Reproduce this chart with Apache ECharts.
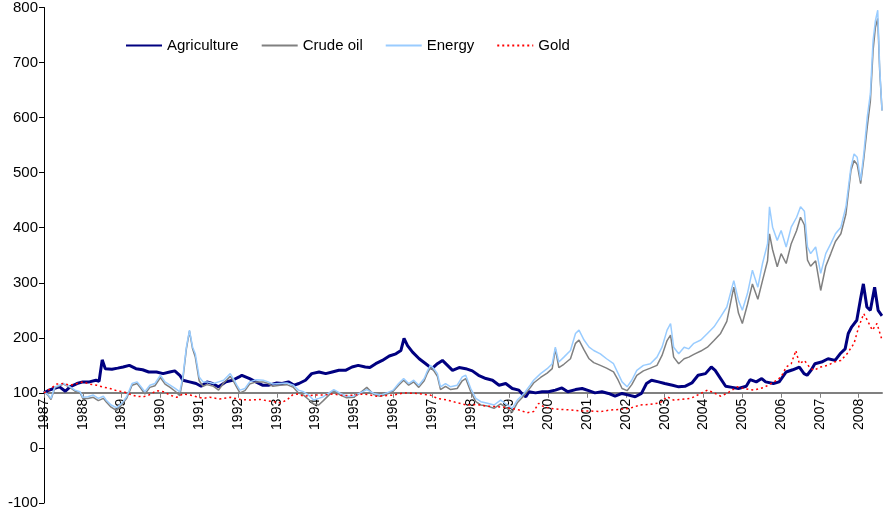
<!DOCTYPE html>
<html><head><meta charset="utf-8">
<script src="https://cdn.jsdelivr.net/npm/echarts@6/dist/echarts.min.js"></script>
<style>html,body{margin:0;padding:0;background:#fff}#c{width:883px;height:520px}</style>
</head><body><div id="c"></div>
<script>
const seriesNames = ['Agriculture', 'Crude oil', 'Energy', 'Gold'];
const yMin = -100, yMax = 800, yStep = 100;
const xFirstYear = 1987, xLastYear = 2008.6, baseLevel = 100;

const agriYears = [1987.00,1987.10,1987.25,1987.40,1987.55,1987.67,1987.85,1988.00,1988.17,1988.34,1988.42,1988.50,1988.58,1988.75,1988.90,1989.04,1989.20,1989.37,1989.54,1989.70,1989.90,1990.07,1990.24,1990.37,1990.50,1990.58,1990.75,1990.92,1991.05,1991.20,1991.34,1991.50,1991.69,1991.86,1992.03,1992.10,1992.30,1992.46,1992.63,1992.80,1993.00,1993.14,1993.30,1993.45,1993.57,1993.74,1993.90,1994.09,1994.26,1994.43,1994.60,1994.77,1994.94,1995.10,1995.28,1995.40,1995.55,1995.72,1995.90,1996.07,1996.20,1996.28,1996.37,1996.50,1996.67,1996.84,1997.00,1997.14,1997.27,1997.40,1997.53,1997.70,1997.87,1998.04,1998.20,1998.39,1998.56,1998.73,1998.90,1999.07,1999.24,1999.35,1999.42,1999.50,1999.67,1999.84,2000.00,2000.18,2000.35,2000.50,2000.70,2000.87,2001.04,2001.20,2001.38,2001.55,2001.72,2001.90,2002.07,2002.24,2002.40,2002.53,2002.66,2002.84,2003.00,2003.20,2003.36,2003.52,2003.70,2003.86,2004.05,2004.20,2004.30,2004.44,2004.57,2004.74,2004.90,2005.10,2005.20,2005.36,2005.50,2005.60,2005.80,2005.95,2006.13,2006.30,2006.47,2006.59,2006.67,2006.78,2006.87,2007.04,2007.21,2007.39,2007.52,2007.65,2007.73,2007.82,2007.95,2008.04,2008.12,2008.21,2008.30,2008.41,2008.50,2008.60];
const agriValues = [100,104,108,111,103,111,117,120,120,123,121,160,144,143,145,147,150,144,142,138,138,135,138,140,132,123,120,117,112,120,117,111,120,123,129,132,126,120,114,114,118,117,120,114,117,123,135,138,135,138,141,141,147,150,147,146,153,159,167,171,177,199,186,174,162,153,144,153,159,150,141,146,144,140,132,126,123,114,117,108,105,96,93,102,100,102,102,105,109,102,106,108,104,100,102,99,94,99,96,93,99,117,123,120,117,114,111,112,118,132,135,147,141,126,112,110,108,112,124,120,126,120,117,120,138,142,147,135,132,142,153,156,162,159,171,180,208,220,232,268,298,256,250,292,250,240];

const energyYears = [1987.00,1987.10,1987.18,1987.28,1987.40,1987.50,1987.67,1987.80,1987.93,1988.00,1988.13,1988.27,1988.40,1988.53,1988.60,1988.73,1988.87,1989.00,1989.13,1989.27,1989.40,1989.50,1989.60,1989.73,1989.86,1990.00,1990.12,1990.25,1990.38,1990.50,1990.58,1990.67,1990.75,1990.83,1990.90,1991.00,1991.10,1991.20,1991.37,1991.50,1991.63,1991.80,1991.88,1991.97,1992.05,1992.18,1992.30,1992.47,1992.65,1992.78,1992.90,1993.08,1993.26,1993.43,1993.56,1993.69,1993.82,1993.95,1994.08,1994.20,1994.33,1994.47,1994.64,1994.80,1994.98,1995.15,1995.32,1995.50,1995.67,1995.84,1996.00,1996.14,1996.27,1996.40,1996.53,1996.66,1996.80,1996.87,1996.96,1997.05,1997.14,1997.22,1997.35,1997.48,1997.65,1997.78,1997.87,1998.00,1998.13,1998.26,1998.43,1998.60,1998.77,1998.94,1999.07,1999.20,1999.37,1999.54,1999.62,1999.80,1999.97,2000.10,2000.18,2000.27,2000.40,2000.57,2000.70,2000.79,2000.92,2001.05,2001.17,2001.34,2001.50,2001.68,2001.80,2001.90,2002.03,2002.15,2002.28,2002.45,2002.63,2002.80,2002.93,2003.06,2003.15,2003.23,2003.36,2003.50,2003.62,2003.75,2003.93,2004.10,2004.27,2004.44,2004.60,2004.78,2004.90,2005.00,2005.13,2005.26,2005.40,2005.52,2005.65,2005.70,2005.78,2005.90,2006.00,2006.13,2006.26,2006.40,2006.50,2006.60,2006.68,2006.76,2006.89,2007.02,2007.15,2007.28,2007.40,2007.54,2007.67,2007.80,2007.88,2007.96,2008.05,2008.13,2008.22,2008.30,2008.37,2008.43,2008.49,2008.54,2008.60];
const energyValues = [102,97,90,111,114,117,111,105,102,92,93,96,90,94,87,78,73,81,93,117,120,111,102,114,117,132,120,114,108,102,129,183,214,183,171,129,120,120,117,120,123,135,126,114,105,108,120,124,123,120,116,117,118,114,105,102,96,87,90,93,99,106,99,94,94,100,106,99,96,100,105,117,126,117,123,114,126,138,150,144,135,111,117,111,114,129,132,108,90,84,81,78,87,78,72,87,99,115,123,135,144,153,183,156,165,177,208,214,196,183,177,171,162,153,135,120,111,123,141,150,153,165,183,214,226,183,171,183,180,190,196,208,220,238,256,304,268,250,280,323,292,335,371,438,401,377,395,365,401,419,438,430,365,353,365,317,353,371,389,401,438,510,534,528,486,534,601,643,740,776,795,692,613];

const oilYears = energyYears;
const oilValues = [102,96,88,109,113,116,110,103,100,90,90,92,86,90,84,74,68,78,90,114,117,108,98,110,113,128,116,110,103,95,125,180,212,180,165,122,112,115,112,105,118,130,122,110,100,104,116,120,120,117,112,114,115,110,100,96,88,80,78,86,95,104,96,91,92,100,110,97,94,98,103,114,123,114,120,110,122,134,146,140,130,106,112,106,108,122,126,102,84,78,76,72,80,72,65,82,95,110,118,128,136,144,180,146,152,162,190,196,178,162,155,150,145,138,123,108,104,115,132,140,145,150,168,195,205,165,153,162,165,170,176,183,195,208,230,292,245,226,260,298,270,304,340,389,360,329,353,335,371,395,419,405,341,330,340,286,330,353,375,389,425,504,522,515,480,525,583,630,722,764,780,686,613];

const goldYears = [1987.00,1987.17,1987.33,1987.50,1987.67,1987.85,1988.00,1988.17,1988.36,1988.50,1988.70,1988.87,1989.05,1989.20,1989.37,1989.56,1989.70,1989.90,1990.08,1990.25,1990.42,1990.58,1990.77,1990.93,1991.10,1991.27,1991.52,1991.80,1992.06,1992.30,1992.57,1992.83,1993.10,1993.26,1993.40,1993.52,1993.70,1993.95,1994.20,1994.46,1994.72,1994.98,1995.24,1995.58,1996.00,1996.27,1996.60,1996.96,1997.14,1997.40,1997.65,1997.90,1998.15,1998.40,1998.65,1998.94,1999.20,1999.45,1999.62,1999.75,1999.88,2000.05,2000.30,2000.57,2000.83,2001.10,2001.34,2001.60,2001.85,2002.10,2002.36,2002.62,2002.88,2003.06,2003.23,2003.40,2003.67,2003.93,2004.10,2004.27,2004.44,2004.60,2004.87,2005.04,2005.30,2005.56,2005.82,2006.00,2006.13,2006.26,2006.38,2006.47,2006.60,2006.73,2006.84,2007.02,2007.20,2007.37,2007.54,2007.70,2007.88,2008.00,2008.13,2008.22,2008.35,2008.47,2008.60];
const goldValues = [100,108,116,117,114,117,120,116,114,111,108,104,102,98,94,93,96,104,102,96,92,98,96,93,90,92,89,92,88,87,88,85,82,87,96,98,94,96,96,98,95,96,98,94,96,100,99,96,90,87,82,78,79,76,75,73,70,64,66,81,75,72,70,69,67,67,66,69,70,72,78,79,82,93,87,88,90,99,105,100,94,99,111,108,105,110,120,129,147,153,177,153,159,147,141,147,150,156,159,171,190,220,244,232,214,226,196];

function pairs(xs, ys) { return xs.map((x, i) => [x, ys[i]]); }

const W = 883, H = 520;
const gridTop = 7, gridBottom = 17, gridLeft = 44, gridRight = 1;
const gridH = H - gridTop - gridBottom;
const xAxisOffset = -gridH * (baseLevel - yMin) / (yMax - yMin);

const chart = echarts.init(document.getElementById('c'), null, {renderer: 'canvas'});
const font = 'Arial, "Liberation Sans", sans-serif';

function lineSeries(name, data, color, width, type, z) {
  return {
    name, type: 'line', data, symbol: 'none', showSymbol: false, z,
    lineStyle: {color, width, type}, itemStyle: {color},
    emphasis: {disabled: true}, animation: false
  };
}

chart.setOption({
  animation: false,
  backgroundColor: '#fff',
  textStyle: {fontFamily: font},
  grid: {left: gridLeft, right: gridRight, top: gridTop, bottom: gridBottom, containLabel: false},
  legend: {
    data: seriesNames,
    left: 120, top: 33,
    itemWidth: 36, itemHeight: 14, itemGap: 22,
    itemStyle: {opacity: 0},
    lineStyle: {width: 2},
    textStyle: {fontSize: 15, color: '#000', fontFamily: font},
    selectedMode: false
  },
  xAxis: {
    type: 'value', min: xFirstYear, max: xLastYear, interval: 1,
    position: 'bottom', offset: xAxisOffset,
    splitLine: {show: false},
    axisLine: {show: true, onZero: false, lineStyle: {color: '#808080', width: 2}},
    axisTick: {show: true, length: 5, lineStyle: {color: '#808080', width: 1}},
    axisLabel: {
      rotate: 90, fontSize: 14, color: '#000', margin: 6, fontFamily: font,
      showMaxLabel: false,
      formatter: v => Number.isInteger(v) ? String(v) : ''
    }
  },
  yAxis: {
    type: 'value', min: yMin, max: yMax, interval: yStep,
    splitLine: {show: false},
    axisLine: {show: true, onZero: false, lineStyle: {color: '#000', width: 1}},
    axisTick: {show: true, length: 5, lineStyle: {color: '#000'}},
    axisLabel: {fontSize: 15, color: '#000', margin: 6, fontFamily: font}
  },
  series: [
    lineSeries('Agriculture', pairs(agriYears, agriValues), '#000080', 3, 'solid', 2),
    lineSeries('Crude oil', pairs(oilYears, oilValues), '#808080', 1.5, 'solid', 3),
    lineSeries('Energy', pairs(energyYears, energyValues), '#99ccff', 1.5, 'solid', 4),
    lineSeries('Gold', pairs(goldYears, goldValues), '#ff0000', 1.5, [2, 3], 5)
  ]
});
</script>
</body></html>
